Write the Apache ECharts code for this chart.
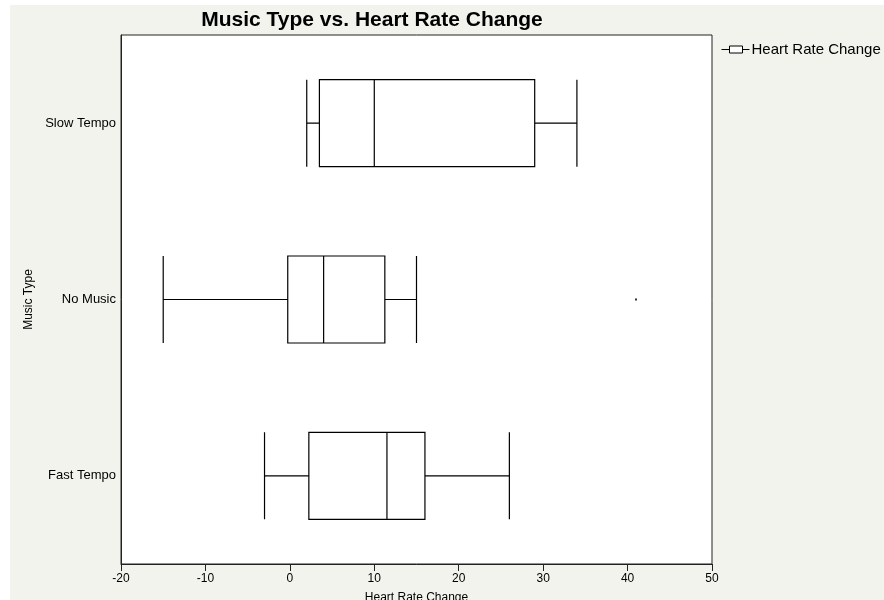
<!DOCTYPE html>
<html>
<head>
<meta charset="utf-8">
<script src="https://cdn.jsdelivr.net/npm/echarts@6/dist/echarts.min.js"></script>
<style>html,body{margin:0;padding:0;background:#fff;}#c{width:884px;height:600px;}</style>
</head>
<body>
<div id="c"></div>
<script>
const categories = ['Fast Tempo', 'No Music', 'Slow Tempo'];
// [min, Q1, median, Q3, max]
const fastTempo = [-3, 2.25, 11.5, 16, 26];
const noMusic = [-15, -0.25, 4, 11.25, 15];
const slowTempo = [2, 3.5, 10, 29, 34];
const outliers = [[41, 'No Music']];
const xTicks = [-20, -10, 0, 10, 20, 30, 40, 50];

const chart = echarts.init(document.getElementById('c'));
const FONT = '"Liberation Sans", Arial, sans-serif';
chart.setOption({
  backgroundColor: '#ffffff',
  animation: false,
  graphic: [{
    type: 'rect', z: -10, silent: true,
    shape: { x: 10, y: 5, width: 874, height: 595 },
    style: { fill: '#f3f3ee' }
  }],
  title: {
    text: 'Music Type vs. Heart Rate Change',
    left: 367, top: 5, textAlign: 'center',
    textStyle: { fontFamily: FONT, fontWeight: 'bold', fontSize: 21, color: '#000' }
  },
  legend: {
    data: ['Heart Rate Change'],
    left: 716, top: 37,
    itemWidth: 28, itemHeight: 8, itemGap: 4,
    icon: 'path://M0,4 L8,4 M8,0.5 L21,0.5 L21,7.5 L8,7.5 Z M21,4 L28,4',
    itemStyle: { color: '#ffffff', borderColor: '#000000', borderWidth: 1 },
    textStyle: { fontFamily: FONT, fontSize: 15, color: '#000', padding: [0, 0, 0, -3] }
  },
  grid: {
    left: 121, right: 172, top: 35, bottom: 36,
    outerBoundsMode: 'none', containLabel: false,
    show: true, backgroundColor: '#ffffff', borderColor: '#222', borderWidth: 1
  },
  xAxis: {
    type: 'value', min: -20, max: 50, interval: 10,
    name: 'Heart Rate Change', nameLocation: 'middle', nameGap: 28,
    nameTextStyle: { fontFamily: FONT, fontSize: 12, color: '#000' },
    axisLine: { show: true, onZero: false, lineStyle: { color: '#222' } },
    axisTick: { show: true, length: 7, lineStyle: { color: '#222' } },
    axisLabel: {
      fontFamily: FONT, fontSize: 12, color: '#000', margin: 9,
      formatter: v => xTicks.includes(v) ? String(v) : ''
    },
    splitLine: { show: false }
  },
  yAxis: {
    type: 'category', data: categories,
    name: 'Music Type', nameLocation: 'middle', nameGap: 81, nameRotate: 90,
    nameTextStyle: { fontFamily: FONT, fontSize: 12, color: '#000' },
    axisLine: { show: true, onZero: false, lineStyle: { color: '#222' } },
    axisTick: { show: false },
    axisLabel: { fontFamily: FONT, fontSize: 13, color: '#000', margin: 5 },
    splitLine: { show: false }
  },
  series: [{
    name: 'Heart Rate Change',
    type: 'boxplot',
    layout: 'horizontal',
    boxWidth: [87, 87],
    itemStyle: { color: '#ffffff', borderColor: '#000000', borderWidth: 1.2 },
    data: [fastTempo, noMusic, slowTempo]
  }, {
    name: 'outliers',
    type: 'scatter',
    symbol: 'rect', symbolSize: 2,
    itemStyle: { color: '#000' },
    data: outliers
  }]
});
</script>
</body>
</html>
